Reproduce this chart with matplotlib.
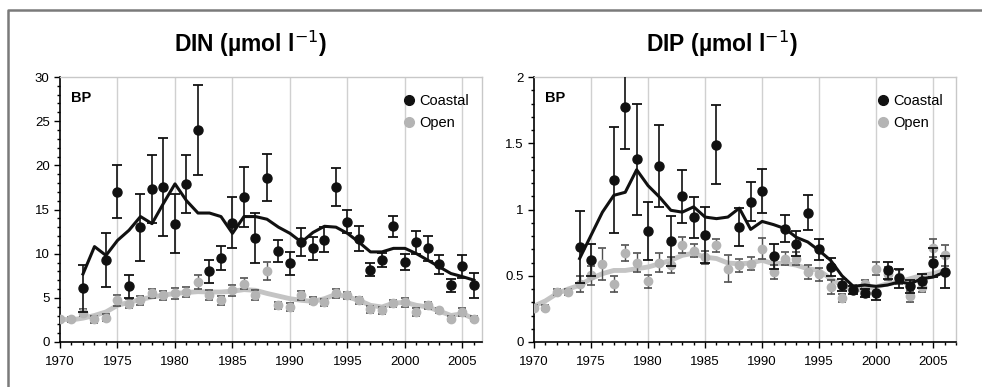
"""
DIN / DIP time series, coastal vs open stations (BP).
"""
import matplotlib.pyplot as plt
from matplotlib.lines import Line2D
from matplotlib.ticker import MultipleLocator, FuncFormatter

# ---- DIN (umol/l) ----
din_coast_years = [1972, 1974, 1975, 1976, 1977, 1978, 1979, 1980, 1981, 1982, 1983, 1984,
                   1985, 1986, 1987, 1988, 1989, 1990, 1991, 1992, 1993, 1994, 1995, 1996,
                   1997, 1998, 1999, 2000, 2001, 2002, 2003, 2004, 2005, 2006]
din_coast = [6.1, 9.25, 17.0, 6.3, 13.0, 17.3, 17.6, 13.4, 17.9, 24.0, 8.0, 9.5,
             13.5, 16.4, 11.8, 18.6, 10.3, 8.9, 11.3, 10.6, 11.6, 17.55, 13.6, 11.7,
             8.2, 9.3, 13.1, 9.1, 11.3, 10.6, 8.8, 6.4, 8.6, 6.4]
din_coast_err = [2.65, 3.05, 3.0, 1.3, 3.8, 3.85, 5.55, 3.35, 3.3, 5.15, 1.3, 1.4,
                 2.9, 3.4, 2.85, 2.65, 1.2, 1.3, 1.6, 1.3, 1.4, 2.1, 1.3, 1.4,
                 0.75, 0.8, 1.2, 0.9, 1.3, 1.45, 1.1, 0.75, 1.3, 1.4]
din_coast_mean_years = list(range(1972, 2007))
din_coast_mean = [7.7, 10.8, 9.8, 11.5, 12.65, 14.2, 13.4, 15.7, 17.9, 16.0, 14.6, 14.6,
                  14.2, 12.3, 14.2, 14.2, 13.9, 13.0, 12.3, 11.3, 12.4, 13.1, 13.0, 12.3,
                  11.3, 10.2, 10.2, 10.6, 10.6, 10.0, 9.25, 8.5, 7.75, 7.4, 7.0]

din_open_years = list(range(1970, 2007))
din_open = [2.57, 2.57, 3.3, 2.57, 2.76, 4.72, 4.35, 4.72, 5.5, 5.3, 5.5, 5.66, 6.8,
            5.3, 4.72, 5.85, 6.6, 5.3, 8.04, 4.15, 3.96, 5.3, 4.65, 4.5, 5.5, 5.3,
            4.72, 3.7, 3.6, 4.4, 4.5, 3.4, 4.15, 3.6, 2.65, 3.4, 2.65]
din_open_err = [0.3, 0.3, 0.4, 0.4, 0.4, 0.6, 0.5, 0.5, 0.5, 0.5, 0.6, 0.6, 0.75,
                0.6, 0.5, 0.6, 0.6, 0.6, 1.0, 0.4, 0.5, 0.5, 0.4, 0.4, 0.5, 0.4,
                0.4, 0.4, 0.4, 0.4, 0.5, 0.4, 0.4, 0.3, 0.3, 0.4, 0.3]
din_open_mean = [2.6, 2.5, 2.7, 3.0, 3.4, 4.15, 4.5, 4.8, 5.1, 5.3, 5.5, 5.6, 5.7,
                 5.66, 5.66, 5.75, 5.93, 5.85, 5.5, 5.2, 4.9, 4.72, 4.6, 4.9, 5.4, 5.1,
                 4.72, 4.15, 3.96, 4.4, 4.5, 4.15, 3.96, 3.5, 3.0, 3.2, 2.65]

# ---- DIP (umol/l) ----
dip_coast_years = [1974, 1975, 1977, 1978, 1979, 1980, 1981, 1982, 1983, 1984, 1985, 1986,
                   1988, 1989, 1990, 1991, 1992, 1993, 1994, 1995, 1996, 1997, 1998, 1999,
                   2000, 2001, 2002, 2003, 2004, 2005, 2006]
dip_coast = [0.717, 0.617, 1.22, 1.77, 1.38, 0.84, 1.33, 0.76, 1.10, 0.94, 0.81, 1.49,
             0.87, 1.06, 1.14, 0.647, 0.856, 0.742, 0.977, 0.70, 0.566, 0.428, 0.39, 0.373,
             0.37, 0.54, 0.48, 0.42, 0.46, 0.60, 0.528]
dip_coast_err = [0.275, 0.12, 0.40, 0.31, 0.42, 0.22, 0.31, 0.19, 0.20, 0.155, 0.21, 0.30,
                 0.145, 0.145, 0.165, 0.095, 0.10, 0.095, 0.135, 0.08, 0.07, 0.045, 0.03, 0.03,
                 0.05, 0.065, 0.07, 0.05, 0.05, 0.11, 0.12]
dip_coast_mean_years = list(range(1974, 2007))
dip_coast_mean = [0.63, 0.805, 0.98, 1.107, 1.13, 1.30, 1.18, 1.094, 0.994, 0.98, 1.02,
                  0.943, 0.931, 0.943, 1.01, 0.85, 0.91, 0.886, 0.856, 0.79, 0.755, 0.69,
                  0.617, 0.50, 0.42, 0.43, 0.42, 0.43, 0.453, 0.44, 0.478, 0.49, 0.528]

dip_open_years = list(range(1970, 2007))
dip_open = [0.26, 0.26, 0.377, 0.377, 0.435, 0.503, 0.59, 0.44, 0.67, 0.60, 0.458, 0.60,
            0.58, 0.73, 0.69, 0.64, 0.73, 0.553, 0.58, 0.59, 0.705, 0.528, 0.63, 0.63,
            0.528, 0.51, 0.415, 0.335, 0.40, 0.44, 0.553, 0.516, 0.49, 0.345, 0.415,
            0.71, 0.654]
dip_open_err = [0.02, 0.02, 0.02, 0.02, 0.06, 0.07, 0.12, 0.06, 0.06, 0.07, 0.05, 0.07,
                0.06, 0.06, 0.05, 0.05, 0.05, 0.10, 0.05, 0.05, 0.08, 0.05, 0.05, 0.05,
                0.05, 0.05, 0.05, 0.03, 0.03, 0.03, 0.05, 0.05, 0.05, 0.04, 0.04,
                0.07, 0.08]
dip_open_mean = [0.27, 0.31, 0.365, 0.40, 0.428, 0.478, 0.516, 0.54, 0.54, 0.553, 0.566,
                 0.59, 0.617, 0.654, 0.67, 0.64, 0.63, 0.596, 0.59, 0.596, 0.617, 0.59,
                 0.596, 0.58, 0.553, 0.54, 0.478, 0.428, 0.39, 0.40, 0.415, 0.44, 0.453,
                 0.478, 0.503, 0.516, 0.54]

BLACK = '#111111'
GRAY = '#b4b4b4'
GRAY_LINE = '#c4c4c4'

plt.rcParams['font.family'] = ['Liberation Sans', 'DejaVu Sans']

fig = plt.figure(figsize=(9.82, 3.87), dpi=100)
ax1 = fig.add_axes([60 / 982, 45 / 387, 422 / 982, 265 / 387])
ax2 = fig.add_axes([534 / 982, 45 / 387, 422 / 982, 265 / 387])


def draw_panel(ax, oy, o, oe, om, cy, c, ce, cmy, cm, ymax, ymajor, yminor, xmax):
    for yr in range(1975, 2010, 5):
        ax.axvline(yr, color='#d0d0d0', lw=1.0, zorder=0)
    ax.plot(oy, om, color=GRAY_LINE, lw=3.5, zorder=2, solid_capstyle='round')
    ax.errorbar(oy, o, yerr=oe, fmt='o', color=GRAY, ms=6, ecolor='#505050',
                elinewidth=1.0, capsize=3, capthick=1.2, zorder=3)
    ax.plot(cmy, cm, color=BLACK, lw=2.2, zorder=4)
    ax.errorbar(cy, c, yerr=ce, fmt='o', color=BLACK, ms=6.5, ecolor=BLACK,
                elinewidth=1.2, capsize=3.5, capthick=1.3, zorder=5)
    ax.set_xlim(1970, xmax)
    ax.set_ylim(0, ymax)
    ax.xaxis.set_major_locator(MultipleLocator(5))
    ax.xaxis.set_minor_locator(MultipleLocator(1))
    ax.yaxis.set_major_locator(MultipleLocator(ymajor))
    ax.yaxis.set_minor_locator(MultipleLocator(yminor))
    ax.yaxis.set_major_formatter(FuncFormatter(lambda v, p: f'{v:g}'))
    ax.tick_params(axis='both', which='major', direction='out', length=4, width=1,
                   labelsize=9.5)
    ax.tick_params(axis='x', which='major', pad=6)
    ax.tick_params(axis='both', which='minor', direction='out', length=2.5, width=1)
    for s in ['top', 'right']:
        ax.spines[s].set_color('#c8c8c8')
        ax.spines[s].set_linewidth(1.0)
    for s in ['left', 'bottom']:
        ax.spines[s].set_color('black')
        ax.spines[s].set_linewidth(1.2)
    ax.text(0.025, 0.92, 'BP', transform=ax.transAxes, fontsize=10.5,
            fontweight='bold', va='center', ha='left')
    handles = [Line2D([], [], marker='o', ls='none', color=BLACK, ms=7),
               Line2D([], [], marker='o', ls='none', color=GRAY, ms=7)]
    ax.legend(handles, ['Coastal', 'Open'], loc='upper right',
              bbox_to_anchor=(1.0, 0.985), frameon=False, fontsize=10.5,
              handlelength=0.8, handletextpad=0.3, labelspacing=0.55)


draw_panel(ax1, din_open_years, din_open, din_open_err, din_open_mean,
           din_coast_years, din_coast, din_coast_err, din_coast_mean_years,
           din_coast_mean, 30, 5, 1, 2006.7)

draw_panel(ax2, dip_open_years, dip_open, dip_open_err, dip_open_mean,
           dip_coast_years, dip_coast, dip_coast_err, dip_coast_mean_years,
           dip_coast_mean, 2, 0.5, 0.1, 2007.0)

fig.text(250 / 982, 1 - 44 / 387, r'DIN (µmol l$^{-1}$)', ha='center',
         va='center', fontsize=16.5, fontweight='bold')
fig.text(722 / 982, 1 - 44 / 387, r'DIP (µmol l$^{-1}$)', ha='center',
         va='center', fontsize=16.5, fontweight='bold')

# outer frame of the figure panel
fig.add_artist(Line2D([8 / 982, 8 / 982, 1.0], [0.0, 1 - 10 / 387, 1 - 10 / 387],
                      transform=fig.transFigure, color='#7a7a7a', lw=1.8))

fig.savefig('out.png', dpi=100)
